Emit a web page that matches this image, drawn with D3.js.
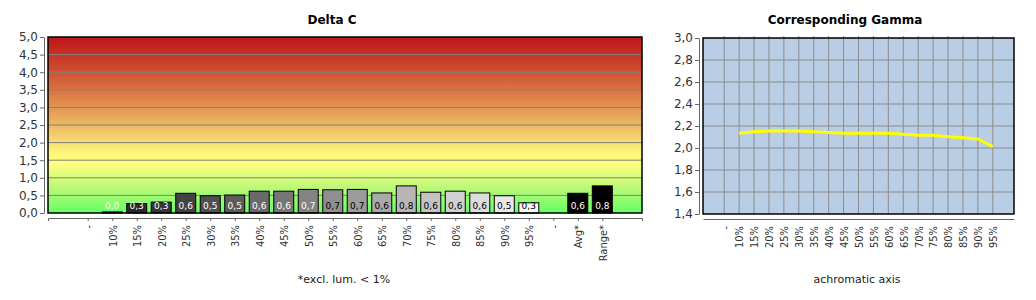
<!DOCTYPE html>
<html>
<head>
<meta charset="utf-8">
<script src="https://cdn.jsdelivr.net/npm/d3@7"></script>
<style>
  body { margin: 0; background: #fff; }
  svg { display: block; font-family: "DejaVu Sans", sans-serif; }
  .axis text { fill: #333; }
  .axis path, .axis line { stroke: #666; }
</style>
</head>
<body>
<div id="chart"></div>
<script>
// Delta C values per grey step
var dcCategories = ["-", "10%", "15%", "20%", "25%", "30%", "35%", "40%", "45%", "50%", "55%",
    "60%", "65%", "70%", "75%", "80%", "85%", "90%", "95%", "- ", "Avg*", "Range*"];
var dcSteps = ["10%", "15%", "20%", "25%", "30%", "35%", "40%", "45%", "50%", "55%",
    "60%", "65%", "70%", "75%", "80%", "85%", "90%", "95%", "Avg*", "Range*"];
var dcValues = [0.03, 0.27, 0.31, 0.56, 0.49, 0.51, 0.62, 0.62, 0.67, 0.66,
    0.67, 0.57, 0.77, 0.59, 0.62, 0.57, 0.49, 0.29, 0.56, 0.77];
var dcTicks = [0, 0.5, 1, 1.5, 2, 2.5, 3, 3.5, 4, 4.5, 5];

// Gamma per grey step
var gammaCategories = ["-", "10%", "15%", "20%", "25%", "30%", "35%", "40%", "45%", "50%",
    "55%", "60%", "65%", "70%", "75%", "80%", "85%", "90%", "95%"];
var gammaSteps = ["10%", "15%", "20%", "25%", "30%", "35%", "40%", "45%", "50%",
    "55%", "60%", "65%", "70%", "75%", "80%", "85%", "90%", "95%"];
var gammaValues = [2.134, 2.148, 2.155, 2.155, 2.155, 2.148, 2.142, 2.134, 2.134,
    2.134, 2.134, 2.124, 2.115, 2.115, 2.103, 2.094, 2.082, 2.012];
var gammaTicks = [1.4, 1.6, 1.8, 2.0, 2.2, 2.4, 2.6, 2.8, 3.0];

var fmt = function(d) { return d3.format(".1f")(d).replace(".", ","); };

var svg = d3.select("#chart").append("svg")
    .attr("width", 1036)
    .attr("height", 300);

// ---------- Delta C ----------
var dc = { left: 48, right: 642, top: 37, bottom: 213 };

var xDc = d3.scalePoint()
    .domain(dcCategories)
    .range([dc.left, dc.right])
    .padding(1.62);

var yDc = d3.scaleLinear()
    .domain([0, 5])
    .range([dc.bottom, dc.top]);

var defs = svg.append("defs");
var grad = defs.append("linearGradient")
    .attr("id", "dcGrad")
    .attr("x1", 0).attr("y1", 0).attr("x2", 0).attr("y2", 1);
[[0, "#bf1418"], [0.2, "#cf5234"], [0.4, "#e39552"], [0.55, "#f2ca6c"],
 [0.66, "#fdf67c"], [0.72, "#ffff80"], [0.85, "#bff878"], [1, "#66ff66"]]
    .forEach(function(s) {
        grad.append("stop").attr("offset", s[0]).attr("stop-color", s[1]);
    });

svg.append("rect")
    .attr("x", dc.left).attr("y", dc.top)
    .attr("width", dc.right - dc.left).attr("height", dc.bottom - dc.top)
    .attr("fill", "url(#dcGrad)");

svg.append("g").selectAll("line")
    .data(dcTicks.slice(1, -1))
    .join("line")
    .attr("x1", dc.left).attr("x2", dc.right)
    .attr("y1", d => yDc(d)).attr("y2", d => yDc(d))
    .attr("stroke", "#808080");

var greyScale = d3.scaleLinear().domain([0, 17]).range(["#1c1c1c", "#f6f6f6"]);

var bw = 20;
var bars = svg.append("g").selectAll("rect")
    .data(dcSteps)
    .join("rect")
    .attr("x", d => xDc(d) - bw / 2)
    .attr("width", bw)
    .attr("y", (d, i) => yDc(dcValues[i]))
    .attr("height", (d, i) => yDc(0) - yDc(dcValues[i]))
    .attr("fill", (d, i) => i < 18 ? greyScale(i) : "#000")
    .attr("stroke", "#000")
    .attr("stroke-width", 1);

svg.append("g").selectAll("text")
    .data(dcSteps)
    .join("text")
    .attr("x", d => xDc(d))
    .attr("y", dc.bottom - 4)
    .attr("text-anchor", "middle")
    .attr("font-size", 9)
    .attr("fill", (d, i) => (i >= 9 && i < 18) ? "#000" : "#fff")
    .text((d, i) => fmt(dcValues[i]));

svg.append("rect")
    .attr("x", dc.left).attr("y", dc.top)
    .attr("width", dc.right - dc.left).attr("height", dc.bottom - dc.top)
    .attr("fill", "none").attr("stroke", "#000").attr("stroke-width", 1.5);

svg.append("g")
    .attr("class", "axis")
    .attr("transform", "translate(" + (dc.left - 4) + ",0)")
    .call(d3.axisLeft(yDc).tickValues(dcTicks).tickFormat(fmt).tickSize(4).tickPadding(2).tickSizeOuter(0))
    .selectAll("text").attr("font-size", 12).attr("font-family", "DejaVu Sans");

var xAxisDc = svg.append("g")
    .attr("class", "axis")
    .attr("transform", "translate(0," + (dc.bottom + 5) + ")")
    .call(d3.axisBottom(xDc).tickSize(3).tickSizeOuter(3).tickFormat(d => d.trim()));
xAxisDc.selectAll("text")
    .attr("font-size", 11)
    .attr("font-family", "DejaVu Sans Condensed, DejaVu Sans")
    .attr("transform", "rotate(-90)")
    .attr("x", -7).attr("y", 0).attr("dy", "0.35em")
    .style("text-anchor", "end");

svg.append("text")
    .attr("x", 332).attr("y", 24)
    .attr("text-anchor", "middle")
    .attr("font-size", 12).attr("font-weight", "bold")
    .text("Delta C");

svg.append("text")
    .attr("x", 344).attr("y", 283)
    .attr("text-anchor", "middle")
    .attr("font-size", 11).attr("fill", "#222")
    .text("*excl. lum. < 1%");

// ---------- Corresponding Gamma ----------
var gm = { left: 703, right: 1014, top: 38, bottom: 214 };

var xGm = d3.scalePoint()
    .domain(gammaCategories)
    .range([gm.left, gm.right])
    .padding(1.42);

var yGm = d3.scaleLinear()
    .domain([1.4, 3.0])
    .range([gm.bottom, gm.top]);

svg.append("rect")
    .attr("x", gm.left).attr("y", gm.top)
    .attr("width", gm.right - gm.left).attr("height", gm.bottom - gm.top)
    .attr("fill", "#b9cde5");

svg.append("g").selectAll("line")
    .data(gammaTicks.slice(1, -1))
    .join("line")
    .attr("x1", gm.left).attr("x2", gm.right)
    .attr("y1", d => yGm(d)).attr("y2", d => yGm(d))
    .attr("stroke", "#8c8c8c");

svg.append("g").selectAll("line")
    .data(gammaCategories)
    .join("line")
    .attr("x1", d => xGm(d)).attr("x2", d => xGm(d))
    .attr("y1", gm.top - 2).attr("y2", gm.bottom)
    .attr("stroke", "#8c8c8c");

var line = d3.line()
    .x((d, i) => xGm(gammaSteps[i]))
    .y(d => yGm(d));

svg.append("path")
    .datum(gammaValues)
    .attr("d", line)
    .attr("fill", "none")
    .attr("stroke", "#ffff00")
    .attr("stroke-width", 3);

svg.append("rect")
    .attr("x", gm.left).attr("y", gm.top)
    .attr("width", gm.right - gm.left).attr("height", gm.bottom - gm.top)
    .attr("fill", "none").attr("stroke", "#000").attr("stroke-width", 1.5);

svg.append("g")
    .attr("class", "axis")
    .attr("transform", "translate(" + (gm.left - 4) + ",0)")
    .call(d3.axisLeft(yGm).tickValues(gammaTicks).tickFormat(fmt).tickSize(4).tickPadding(2).tickSizeOuter(0))
    .selectAll("text").attr("font-size", 12).attr("font-family", "DejaVu Sans");

var xAxisGm = svg.append("g")
    .attr("class", "axis")
    .attr("transform", "translate(0," + (gm.bottom + 5) + ")")
    .call(d3.axisBottom(xGm).tickSize(0).tickSizeOuter(0));
xAxisGm.selectAll("text")
    .attr("font-size", 11)
    .attr("font-family", "DejaVu Sans Condensed, DejaVu Sans")
    .attr("transform", "rotate(-90)")
    .attr("x", -7).attr("y", 0).attr("dy", "0.35em")
    .style("text-anchor", "end");

svg.append("text")
    .attr("x", 845).attr("y", 24)
    .attr("text-anchor", "middle")
    .attr("font-size", 12).attr("font-weight", "bold")
    .text("Corresponding Gamma");

svg.append("text")
    .attr("x", 857).attr("y", 283)
    .attr("text-anchor", "middle")
    .attr("font-size", 11).attr("fill", "#222")
    .text("achromatic axis");
</script>
</body>
</html>
